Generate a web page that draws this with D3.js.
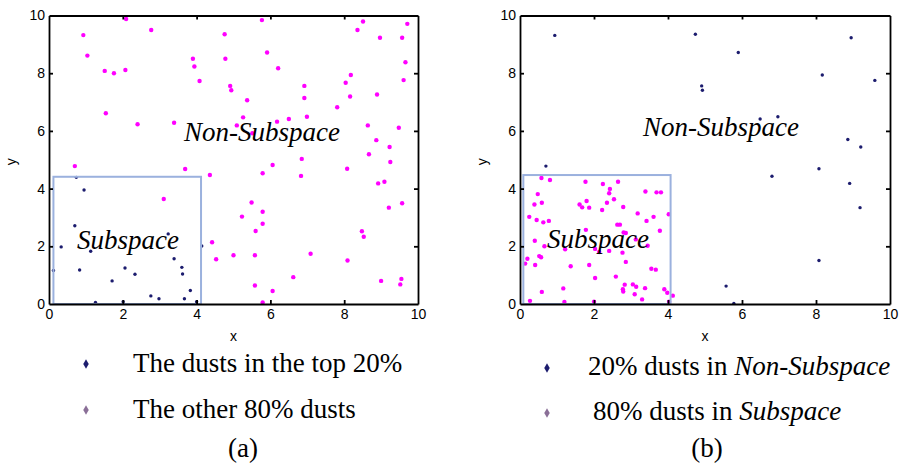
<!DOCTYPE html>
<html>
  <head>
    <meta charset="utf-8">
    <title></title>
  </head>
  <style>
  body{
      margin:0;
      background-color:#fff;
  }
  .axis path, .axis line{
      stroke:#000;
      stroke-width:1.8;
  }
  .axis text{
      font-family:"Liberation Sans", Arial, sans-serif;
      font-size:14px;
      fill:#000;
  }
  .serif{
      font-family:"Liberation Serif", "Times New Roman", serif;
      font-size:27px;
      fill:#000;
  }
  </style>
  <script src="https://d3js.org/d3.v7.min.js"></script>
  <body>
    <script>
    // tick values, both axes
    var ticks = [0, 2, 4, 6, 8, 10]

    // panel (a): top 20% dusts and the rest
    var aTop20 = [[0.74,4.39],[0.95,3.95],[0.70,2.71],[0.33,1.98],[1.13,1.83],[0.12,1.16],[0.83,1.18],
      [3.23,2.43],[4.14,2.01],[3.39,1.57],[3.60,1.27],[3.62,1.04],[2.06,1.25],[2.33,1.03],[1.71,0.80],
      [3.83,0.47],[2.76,0.28],[2.98,0.18],[3.67,0.18],[1.26,0.05],[2.01,0.08],[4.00,0.08]]

    var aOther80 = [[0.93,9.32],[1.04,8.61],[1.51,8.08],[1.76,8.00],[2.07,8.11],[2.09,9.88],[1.54,6.61],
      [2.40,6.23],[2.77,9.50],[3.39,6.28],[3.90,8.50],[3.94,8.23],[4.08,7.73],[4.76,9.35],[4.78,8.50],
      [5.77,9.84],[5.91,8.72],[6.21,8.17],[4.91,7.56],[4.94,7.41],[5.37,7.06],[5.26,6.47],[5.09,6.19],
      [5.51,5.92],[6.18,6.32],[6.50,6.41],[6.92,7.56],[6.92,7.14],[6.99,6.49],[7.81,6.82],[8.04,7.67],
      [8.18,7.94],[8.16,7.19],[8.36,9.50],[8.51,9.79],[8.97,9.23],[9.57,9.23],[9.71,9.71],[9.66,8.38],
      [9.61,7.76],[8.89,7.26],[8.64,6.19],[9.48,6.11],[8.87,5.68],[9.23,5.44],[8.67,5.19],[6.85,5.03],
      [6.06,4.82],[5.79,4.53],[6.83,4.44],[8.08,4.69],[9.25,4.92],[8.92,4.18],[9.09,4.24],[9.57,3.49],
      [9.21,3.34],[5.49,3.52],[5.79,3.20],[5.23,3.03],[5.79,2.78],[5.60,2.53],[8.48,2.52],[8.53,2.33],
      [5.00,1.69],[5.58,1.69],[7.09,1.74],[8.09,1.51],[6.62,0.93],[5.58,0.64],[6.06,0.45],[5.79,0.05],
      [9.00,0.80],[9.55,0.87],[9.52,0.68],[0.70,4.78],[3.69,4.68],[4.36,4.47],[3.11,3.64],[4.42,2.14],
      [4.53,1.55]]

    // panel (b): 20% in Non-Subspace, 80% in Subspace
    var bNonSub = [[0.94,9.31],[4.74,9.35],[5.90,8.72],[4.91,7.56],[4.93,7.41],[6.49,6.41],[6.97,6.49],
      [8.17,7.94],[8.95,9.23],[9.59,7.75],[8.86,5.70],[9.21,5.44],[6.81,4.43],[8.08,4.69],[8.91,4.18],
      [9.19,3.34],[8.08,1.51],[5.57,0.62],[5.78,0.02],[0.70,4.78]]

    var bSub = [[0.81,4.30],[1.77,4.24],[2.24,4.16],[2.65,4.24],[2.43,3.99],[2.41,3.84],[0.48,3.81],
      [0.39,3.45],[0.59,3.51],[1.61,3.45],[1.68,3.35],[1.80,3.57],[1.87,3.34],[2.35,3.51],[2.54,3.63],
      [2.22,3.26],[2.79,3.36],[3.39,3.90],[3.69,3.87],[3.81,3.87],[4.02,3.11],[3.18,3.14],[3.61,3.02],
      [3.42,2.88],[0.25,3.02],[0.45,2.91],[0.63,2.83],[0.78,2.88],[1.78,2.57],[2.63,2.75],[2.70,2.75],
      [2.80,2.48],[2.86,2.46],[3.78,2.54],[0.40,2.19],[0.66,2.00],[3.13,2.24],[3.45,2.02],[2.03,1.91],
      [2.14,1.80],[2.41,1.84],[2.77,1.78],[1.22,1.90],[0.20,1.57],[0.52,1.66],[0.57,1.62],[0.41,1.35],
      [1.37,1.31],[1.87,1.35],[2.86,1.46],[3.55,1.22],[3.67,1.19],[2.03,0.90],[2.59,0.95],[2.83,0.67],
      [2.78,0.51],[2.79,0.43],[3.05,0.68],[3.14,0.60],[3.38,0.55],[3.10,0.34],[3.30,0.16],[3.90,0.51],
      [3.98,0.39],[1.17,0.54],[0.59,0.42],[0.14,1.40],[0.27,0.11],[1.20,0.07],[2.00,0.08],[4.03,0.08],
      [4.13,0.29],[0.58,4.37]]

    var navy = "#1c1c6e", magenta = "#ff00ff", boxBlue = "#9bb1de"

    var svg = d3.select("body").append("svg")
                .attr("width", 901)
                .attr("height", 468)

    function panel(left, right, darkPts, pinkPts, box, bigLabel, smallLabel){
        var top = 15.5, bottom = 304
        var x = d3.scaleLinear().domain([0, 10]).range([left, right])
        var y = d3.scaleLinear().domain([0, 10]).range([bottom, top])
        var g = svg.append("g")

        // points
        g.append("g").selectAll("circle").data(pinkPts).enter().append("circle")
         .attr("cx", function(d){ return x(d[0]) })
         .attr("cy", function(d){ return y(d[1]) })
         .attr("r", 2.2)
         .attr("fill", magenta)
        g.append("g").selectAll("circle").data(darkPts).enter().append("circle")
         .attr("cx", function(d){ return x(d[0]) })
         .attr("cy", function(d){ return y(d[1]) })
         .attr("r", 1.7)
         .attr("fill", navy)

        // subspace rectangle
        g.append("rect")
         .attr("x", x(box[0])).attr("y", y(box[3]))
         .attr("width", x(box[1]) - x(box[0]))
         .attr("height", y(box[2]) - y(box[3]))
         .attr("fill", "none")
         .attr("stroke", boxBlue)
         .attr("stroke-width", 2)

        // axes: ticks pointing inside, box around
        g.append("g").attr("class", "axis")
         .attr("transform", "translate(0," + bottom + ")")
         .call(d3.axisBottom(x).tickValues(ticks).tickSizeInner(-4).tickSizeOuter(0).tickPadding(5).tickFormat(d3.format("d")))
        g.append("g").attr("class", "axis")
         .attr("transform", "translate(0," + top + ")")
         .call(d3.axisTop(x).tickValues(ticks).tickSizeInner(-4).tickSizeOuter(0).tickFormat(""))
        g.append("g").attr("class", "axis")
         .attr("transform", "translate(" + left + ",0)")
         .call(d3.axisLeft(y).tickValues(ticks).tickSizeInner(-4).tickSizeOuter(0).tickPadding(4).tickFormat(d3.format("d")))
        g.append("g").attr("class", "axis")
         .attr("transform", "translate(" + right + ",0)")
         .call(d3.axisRight(y).tickValues(ticks).tickSizeInner(-4).tickSizeOuter(0).tickFormat(""))

        g.selectAll(".axis .tick").filter(function(d){ return d == 0 || d == 10 }).select("line").remove()

        // axis titles
        g.append("text")
         .attr("x", (left + right) / 2).attr("y", 341)
         .attr("text-anchor", "middle")
         .style("font-family", "Liberation Sans, Arial, sans-serif").style("font-size", "14px")
         .text("x")
        g.append("text")
         .attr("transform", "translate(" + (left - 33) + "," + (y(5) + 2) + ") rotate(-90)")
         .attr("text-anchor", "middle")
         .style("font-family", "Liberation Sans, Arial, sans-serif").style("font-size", "14px")
         .text("y")

        // region labels
        g.append("text").attr("class", "serif")
         .attr("x", bigLabel[0]).attr("y", bigLabel[1])
         .style("font-style", "italic")
         .text("Non-Subspace")
        g.append("text").attr("class", "serif")
         .attr("x", smallLabel[0]).attr("y", smallLabel[1])
         .style("font-style", "italic")
         .text("Subspace")
        return g
    }

    panel(49, 418, aTop20, aOther80, [0.12, 4.12, 0, 4.41], [184, 141], [77, 249])
    panel(520, 890, bNonSub, bSub, [0.09, 4.07, 0, 4.47], [643, 136], [547, 248])

    // legends
    function legendMark(cx, cy, color){
        svg.append("path")
           .attr("d", d3.symbol().type(d3.symbolDiamond).size(26)())
           .attr("transform", "translate(" + cx + "," + cy + ")")
           .attr("fill", color)
    }

    legendMark(86, 364, navy)
    legendMark(86, 410, "#8a6f97")
    svg.append("text").attr("class", "serif").attr("x", 133).attr("y", 372).text("The dusts in the top 20%")
    svg.append("text").attr("class", "serif").attr("x", 133).attr("y", 418).text("The other 80% dusts")
    svg.append("text").attr("class", "serif").attr("x", 243).attr("y", 457).attr("text-anchor", "middle").text("(a)")

    legendMark(547, 368, navy)
    legendMark(547, 413, "#8a6f97")
    var t1 = svg.append("text").attr("class", "serif").attr("x", 588).attr("y", 375)
    t1.append("tspan").text("20% dusts in ")
    t1.append("tspan").style("font-style", "italic").text("Non-Subspace")
    var t2 = svg.append("text").attr("class", "serif").attr("x", 593).attr("y", 420)
    t2.append("tspan").text("80% dusts in ")
    t2.append("tspan").style("font-style", "italic").text("Subspace")
    svg.append("text").attr("class", "serif").attr("x", 707).attr("y", 457).attr("text-anchor", "middle").text("(b)")
    </script>
  </body>
</html>
